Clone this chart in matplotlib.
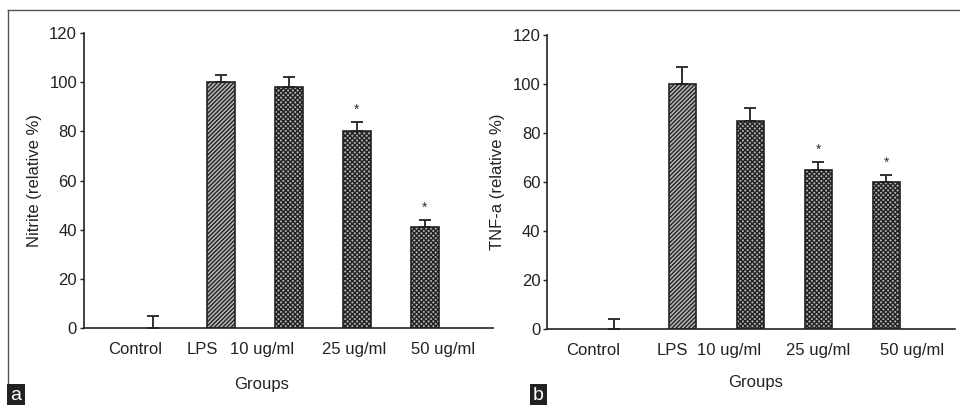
import numpy as np
import matplotlib
matplotlib.use("Agg")
import matplotlib.pyplot as plt
from matplotlib.lines import Line2D

plt.rcParams['font.family'] = ['Liberation Sans', 'DejaVu Sans']
plt.rcParams['hatch.linewidth'] = 1.0
plt.rcParams['hatch.color'] = '#2a2a2a'

groups = ['Control', 'LPS', '10 ug/ml', '25 ug/ml', '50 ug/ml']
nitrite = [0, 100, 98, 80, 41]
nitrite_err = [5, 3, 4, 4, 3]
nitrite_sig = [False, False, False, True, True]
tnf = [0, 100, 85, 65, 60]
tnf_err = [4, 7, 5, 3, 3]
tnf_sig = [False, False, False, True, True]

# label positions are offset from the bars in the original
label_pos_a = [-0.26, 0.72, 1.6, 2.96, 4.26]
label_pos_b = [-0.31, 0.85, 1.68, 2.99, 4.38]

fig = plt.figure(figsize=(9.6, 4.05), dpi=100)
ax1 = fig.add_axes([0.0875, 0.190, 0.426, 0.728])
ax2 = fig.add_axes([0.570, 0.1877, 0.425, 0.726])

FS = 12


def draw(ax, vals, errs, sig, ylabel, label_pos, xlim):
    x = np.arange(len(vals))
    hatches = ['', '////////', 'xxxxxxx', 'xxxxxxx', 'xxxxxxx']
    faces = ['white', '#b8b8b8', '#b0b0b0', '#b0b0b0', '#b0b0b0']
    for i in range(len(vals)):
        if vals[i] > 0:
            ax.bar(x[i], vals[i], width=0.4, color=faces[i], edgecolor='#222222',
                   hatch=hatches[i], linewidth=1.2, zorder=2)
        ax.errorbar(x[i], vals[i], yerr=[[0], [errs[i]]], fmt='none',
                    ecolor='#222222', elinewidth=1.3, capsize=4, capthick=1.3, zorder=3)
        if sig[i]:
            ax.text(x[i], vals[i] + errs[i] + 5, '*', ha='center', va='center',
                    fontsize=10, color='#333333')
    ax.set_ylim(0, 120)
    ax.set_xlim(*xlim)
    ax.set_yticks(range(0, 121, 20))
    ax.set_xticks(label_pos)
    ax.set_xticklabels(groups)
    ax.tick_params(axis='x', length=0, pad=10, labelsize=FS, colors='#222222')
    ax.tick_params(axis='y', length=3, width=1, pad=2, labelsize=FS, colors='#222222')
    for s in ['top', 'right']:
        ax.spines[s].set_visible(False)
    for s in ['left', 'bottom']:
        ax.spines[s].set_color('#222222')
        ax.spines[s].set_linewidth(1.2)
    ax.set_ylabel(ylabel, fontsize=FS, color='#222222', labelpad=5)


draw(ax1, nitrite, nitrite_err, nitrite_sig, 'Nitrite (relative %)', label_pos_a, (-1.015, 5.0))
draw(ax2, tnf, tnf_err, tnf_sig, 'TNF-a (relative %)', label_pos_b, (-0.985, 5.01))

fig.text(262 / 960, 1 - 384 / 405, 'Groups', ha='center', va='center', fontsize=FS, color='#222222')
fig.text(756 / 960, 1 - 383 / 405, 'Groups', ha='center', va='center', fontsize=FS, color='#222222')

# frame lines
fig.add_artist(Line2D([8 / 960, 8 / 960], [1 - 385 / 405, 1 - 10 / 405], color='#555555', lw=1.0))
fig.add_artist(Line2D([8 / 960, 1.0], [1 - 10 / 405, 1 - 10 / 405], color='#555555', lw=1.0))

fig.text(10 / 960, 1 - 396 / 405, 'a', ha='left', va='center', fontsize=14, color='white',
         bbox=dict(facecolor='#222222', edgecolor='none', pad=2.5))
fig.text(533 / 960, 1 - 396 / 405, 'b', ha='left', va='center', fontsize=14, color='white',
         bbox=dict(facecolor='#222222', edgecolor='none', pad=2.5))

fig.savefig('out.png', dpi=100)
